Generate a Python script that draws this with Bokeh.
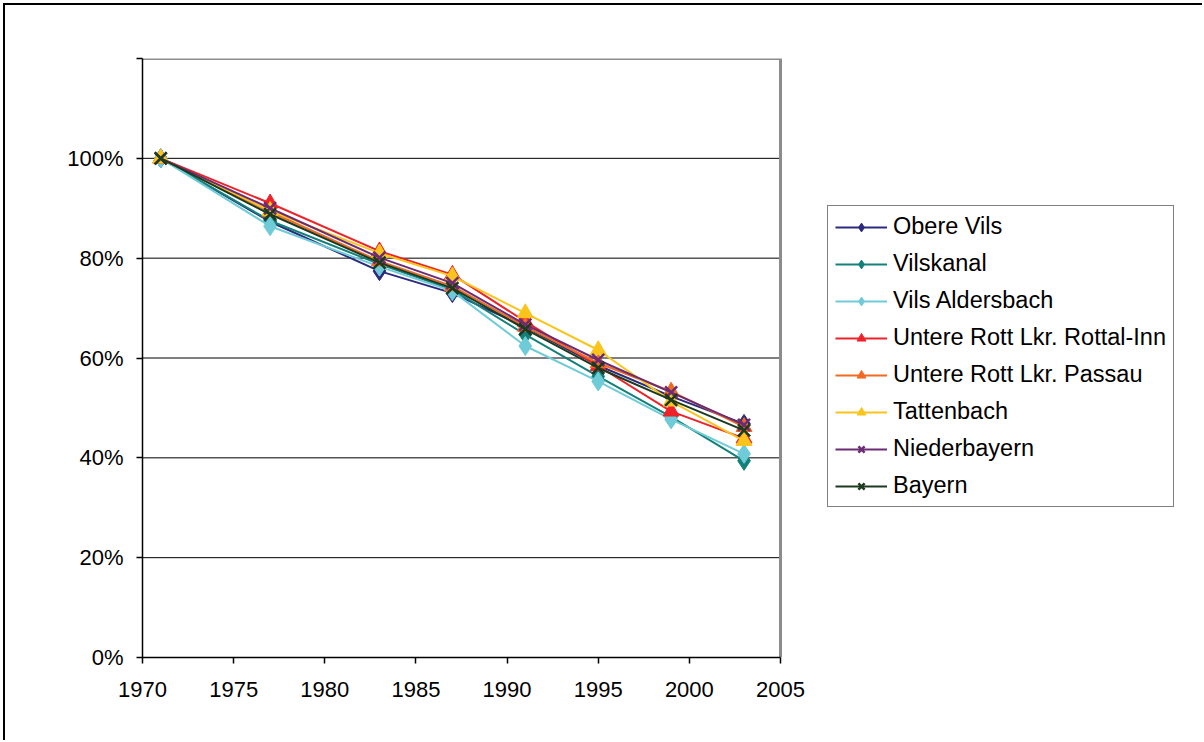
from bokeh.plotting import figure
from bokeh.models import (Range1d, FixedTicker, PrintfTickFormatter, Legend,
                          LegendItem)
from bokeh.embed import file_html
from bokeh.resources import INLINE

# Employment index relative to 1971 (percent)
years = [1971, 1977, 1983, 1987, 1991, 1995, 1999, 2003]
obere_vils = [100, 87.3, 77.4, 73.0, 66.2, 58.5, 52.3, 46.8]
vilskanal = [100, 87.5, 78.8, 73.7, 64.7, 56.3, 48.2, 39.4]
vils_aldersbach = [100, 86.4, 78.3, 73.4, 62.4, 55.3, 47.7, 40.8]
rott_rottal_inn = [100, 91.0, 81.4, 76.7, 67.3, 58.4, 49.3, 43.9]
rott_passau = [100, 89.3, 79.4, 74.4, 66.3, 59.0, 53.3, 46.2]
tattenbach = [100, 89.5, 81.0, 76.4, 69.0, 61.6, 51.3, 43.4]
niederbayern = [100, 90.0, 80.1, 75.0, 66.7, 59.6, 53.1, 46.6]
bayern = [100, 88.8, 79.1, 74.0, 65.8, 58.0, 51.6, 45.5]

series_names = ["Obere Vils", "Vilskanal", "Vils Aldersbach",
                "Untere Rott Lkr. Rottal-Inn", "Untere Rott Lkr. Passau",
                "Tattenbach", "Niederbayern", "Bayern"]
series_values = [obere_vils, vilskanal, vils_aldersbach, rott_rottal_inn,
                 rott_passau, tattenbach, niederbayern, bayern]

x_ticks = [1970, 1975, 1980, 1985, 1990, 1995, 2000, 2005]
y_ticks = [0, 20, 40, 60, 80, 100]
x_min, x_max = x_ticks[0], x_ticks[-1]
y_max = 120

colors = ["#2B2A7C", "#14807A", "#70CBD9", "#EE2229",
          "#F26A21", "#F9C51D", "#6B2C74", "#1C3A1F"]
markers = ["diamond", "diamond", "diamond", "triangle",
           "triangle", "triangle", "x", "x"]
sizes = [19, 19, 19, 16, 16, 16, 17, 17]

FONT = "Liberation Sans"

# The frame runs to the right edge of the canvas so that the legend can sit
# beside the plotting area; the visible plot box ends at x_max.
PLOT_W, PLOT_H = 1199, 737
LEFT, TOP, BOTTOM = 137, 53, 85
px_per_year = 638 / (x_max - x_min)
x_end = x_min + (PLOT_W - LEFT) / px_per_year

p = figure(width=PLOT_W, height=PLOT_H, output_backend="svg", toolbar_location=None,
           x_range=Range1d(x_min, x_end), y_range=Range1d(0, y_max),
           min_border_left=LEFT, min_border_right=0,
           min_border_top=TOP, min_border_bottom=BOTTOM)
# thin black chart border along the top and left edges
p.styles = {"margin-top": "5px", "margin-left": "5px",
            "box-shadow": "-2px -2px 0px 0px black"}
p.background_fill_color = "white"
p.border_fill_color = "white"
p.outline_line_color = None

# axes
p.xaxis.ticker = FixedTicker(ticks=x_ticks)
p.xaxis.bounds = (x_min, x_max)
p.yaxis.ticker = FixedTicker(ticks=y_ticks, minor_ticks=[y_max])
p.yaxis.formatter = PrintfTickFormatter(format="%d%%")
for ax in (p.xaxis[0], p.yaxis[0]):
    ax.axis_line_color = "black"
    ax.axis_line_width = 1.5
    ax.major_tick_line_color = "black"
    ax.major_tick_line_width = 1.5
    ax.major_tick_out = 6
    ax.major_tick_in = 0
    ax.major_label_text_font = FONT
    ax.major_label_text_font_size = "22px"
    ax.major_label_text_color = "black"
p.xaxis.minor_tick_line_color = None
p.xaxis.major_label_standoff = 18
p.yaxis.minor_tick_line_color = "black"
p.yaxis.minor_tick_line_width = 1.5
p.yaxis.minor_tick_out = 6
p.yaxis.minor_tick_in = 0
p.yaxis.major_label_standoff = 13

# horizontal gridlines limited to the plot box
p.xgrid.visible = False
p.ygrid.visible = False
grid_levels = [v for v in y_ticks if v > 0]
p.segment(x0=[x_min] * len(grid_levels), x1=[x_max] * len(grid_levels),
          y0=grid_levels, y1=grid_levels, line_color="black", line_width=1)

# grey plot-box edge on top and right
p.line([x_min, x_max, x_max], [y_max, y_max, 0], line_color="#8C8C8C", line_width=3)

items = []
for name, vals, col, mk, sz in zip(series_names, series_values, colors, markers, sizes):
    ln = p.line(years, vals, line_color=col, line_width=2)
    if mk == "x":
        sc = p.scatter(years, vals, marker=mk, size=sz, line_color=col, line_width=2.5)
    else:
        sc = p.scatter(years, vals, marker=mk, size=sz, fill_color=col,
                       line_color=col, line_width=1)
    items.append(LegendItem(label=name, renderers=[ln, sc]))

legend = Legend(items=items, location=(685, 150), margin=0,
                padding=7, spacing=10, label_standoff=6,
                glyph_width=52, glyph_height=22, label_height=22,
                label_text_font=FONT, label_text_font_size="23.5px",
                label_text_color="black",
                border_line_color="black", border_line_width=1,
                background_fill_color="white")
p.add_layout(legend)

open("out.html", "w").write(file_html(p, INLINE))
